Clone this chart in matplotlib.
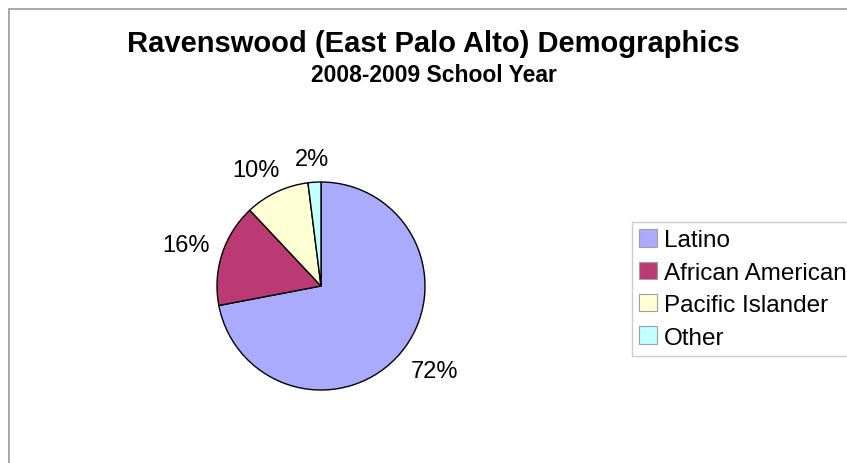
import matplotlib
matplotlib.use('Agg')
import numpy as np
import matplotlib.pyplot as plt
from matplotlib.patches import Rectangle

plt.rcParams['font.family'] = ['Liberation Sans', 'DejaVu Sans']

# data
groups = ['Latino', 'African American', 'Pacific Islander', 'Other']
shares = [72, 16, 10, 2]
colours = ['#aaaaff', '#bb3a73', '#ffffd6', '#c4ffff']

W, H = 847, 464
fig = plt.figure(figsize=(W / 100, H / 100), dpi=100)

# grey frame round the chart (cut off at right and bottom)
fig.add_artist(Rectangle((8.5 / W, -0.1), 1.2, 1.1 - 9.5 / H,
                         transform=fig.transFigure, fill=False,
                         edgecolor='#9a9a9a', linewidth=1.2))

# pie: centre ~(321, 287) px, radius ~104 px
cx, cy, r = 321, 287, 104
ax = fig.add_axes([(cx - r) / W, (H - cy - r) / H, 2 * r / W, 2 * r / H])
wedges, texts = ax.pie(shares, colors=colours, startangle=90, counterclock=False,
                       wedgeprops=dict(edgecolor='black', linewidth=1.0))
ax.set_xlim(-1, 1)
ax.set_ylim(-1, 1)
ax.set_aspect('equal')
ax.axis('off')

# percent labels, placed outside the edge like the spreadsheet does it
fig.canvas.draw()
renderer = fig.canvas.get_renderer()
for w, v in zip(wedges, shares):
    ang = np.deg2rad((w.theta1 + w.theta2) / 2)
    c, s = np.cos(ang), np.sin(ang)
    t = ax.text(0, 0, '%d%%' % v, fontsize=17, ha='center', va='center')
    bb = t.get_window_extent(renderer)
    t.remove()
    # shift the box outwards by half its size (in points)
    dx = bb.width / 2 * np.clip(1.5 * c, -1, 1) * 72 / fig.dpi
    dy = bb.height / 2 * np.clip(1.5 * s, -1, 1) * 72 / fig.dpi
    ax.annotate('%d%%' % v, xy=(1.12 * c, 1.12 * s), xytext=(dx, dy),
                textcoords='offset points', fontsize=17, ha='center', va='center',
                annotation_clip=False)

# titles
fig.text(433 / W, 1 - 52 / H, 'Ravenswood (East Palo Alto) Demographics',
         ha='center', va='baseline', fontsize=21, fontweight='bold')
fig.text(434 / W, 1 - 82 / H, '2008-2009 School Year',
         ha='center', va='baseline', fontsize=16.5, fontweight='bold')

leg = fig.legend(wedges, groups, loc='upper left',
                 bbox_to_anchor=(632 / W, 1 - 223 / H), bbox_transform=fig.transFigure,
                 fontsize=17.5, frameon=True, fancybox=False, borderaxespad=0,
                 handlelength=0.72, handleheight=0.72, handletextpad=0.3,
                 labelspacing=0.42, borderpad=0.3)
leg.get_frame().set_edgecolor('#c0c0c0')
leg.get_frame().set_linewidth(1.0)
for p in leg.get_patches():
    p.set_edgecolor('#a0a0a0')
    p.set_linewidth(0.8)

fig.savefig('out.png', dpi=100)
